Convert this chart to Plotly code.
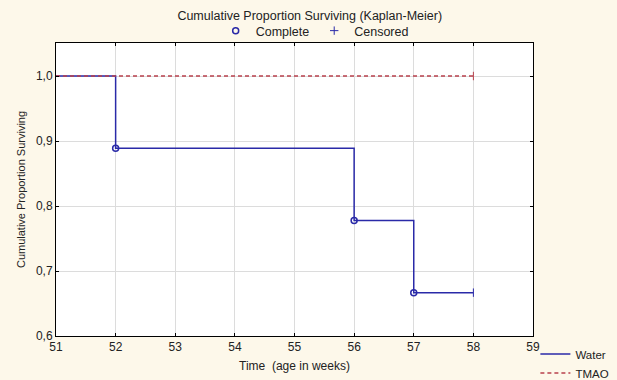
import plotly.graph_objects as go

# Data
water_time = [51, 52, 56, 57, 58]
water_surv = [1.0, 0.8889, 0.7778, 0.6667, 0.6667]
water_complete_time = [52, 56, 57]
water_complete_surv = [0.8889, 0.7778, 0.6667]
water_censored_time = [58]
water_censored_surv = [0.6667]

tmao_time = [51, 58]
tmao_surv = [1.0, 1.0]
tmao_censored_time = [58]
tmao_censored_surv = [1.0]

x_ticks = [51, 52, 53, 54, 55, 56, 57, 58, 59]
y_ticks = [0.6, 0.7, 0.8, 0.9, 1.0]

BLUE = "#2a2aa8"
RED = "#b8404c"
BG = "#fdf8ea"
FONT = "Liberation Sans, Arial, sans-serif"

fig = go.Figure()

fig.add_trace(go.Scatter(x=water_time, y=water_surv, mode="lines", line_shape="hv",
                         line=dict(color=BLUE, width=1.5), name="Water", legend="legend"))
fig.add_trace(go.Scatter(x=tmao_time, y=tmao_surv, mode="lines",
                         line=dict(color=RED, width=1.5, dash="4px,3px"), name="TMAO", legend="legend"))
fig.add_trace(go.Scatter(x=water_complete_time, y=water_complete_surv, mode="markers",
                         marker=dict(symbol="circle-open", size=6, color=BLUE, line=dict(width=1.5)),
                         name="Complete", legend="legend2"))
fig.add_trace(go.Scatter(x=water_censored_time + tmao_censored_time,
                         y=water_censored_surv + tmao_censored_surv, mode="markers",
                         marker=dict(symbol="line-ns-open", size=6, color=[BLUE, RED], line=dict(width=1, color=[BLUE, RED])),
                         showlegend=False))
fig.add_trace(go.Scatter(x=[None], y=[None], mode="markers",
                         marker=dict(symbol="cross-thin-open", size=6, color=BLUE, line=dict(width=1, color=BLUE)),
                         name="Censored", legend="legend2"))

fig.update_layout(
    width=617, height=380,
    paper_bgcolor=BG,
    plot_bgcolor="white",
    separators=", ",
    font=dict(family=FONT, size=12, color="#222222"),
    margin=dict(l=56, r=84, t=43, b=44, autoexpand=False),
    title=dict(text="Cumulative Proportion Surviving (Kaplan-Meier)", x=0.502, xref="container",
               y=1 - 16 / 380, yref="container", yanchor="middle", xanchor="center",
               font=dict(family=FONT, size=12.5, color="#222222")),
    xaxis=dict(range=[51, 59], tickvals=x_ticks, showgrid=True, gridcolor="#dcdcdc",
               showline=True, linecolor="black", mirror="allticks", linewidth=1, zeroline=False,
               ticks="inside", ticklen=3, tickcolor="black",
               title=dict(text="Time  (age in weeks)", standoff=8, font=dict(size=12))),
    yaxis=dict(range=[0.6, 1.0508], tickvals=y_ticks, tickformat=".1f", showgrid=True, gridcolor="#dcdcdc",
               showline=True, linecolor="black", mirror="allticks", linewidth=1, zeroline=False,
               ticks="inside", ticklen=3, tickcolor="black",
               title=dict(text="Cumulative Proportion Surviving", standoff=8, font=dict(size=11))),
    legend=dict(x=1.005, xref="paper", y=-0.012, yanchor="top", xanchor="left", bgcolor="rgba(0,0,0,0)",
                font=dict(size=11.5), tracegroupgap=0, itemwidth=30),
    legend2=dict(orientation="h", x=0.51, xref="container", xanchor="center", y=1 - 31 / 380, yref="container",
                 yanchor="middle", bgcolor="rgba(0,0,0,0)", font=dict(size=12.5)),
)

fig.write_html("out.html", config={"displayModeBar": False},
               post_script="document.body.style.margin='0';document.body.style.background='" + BG + "';")
